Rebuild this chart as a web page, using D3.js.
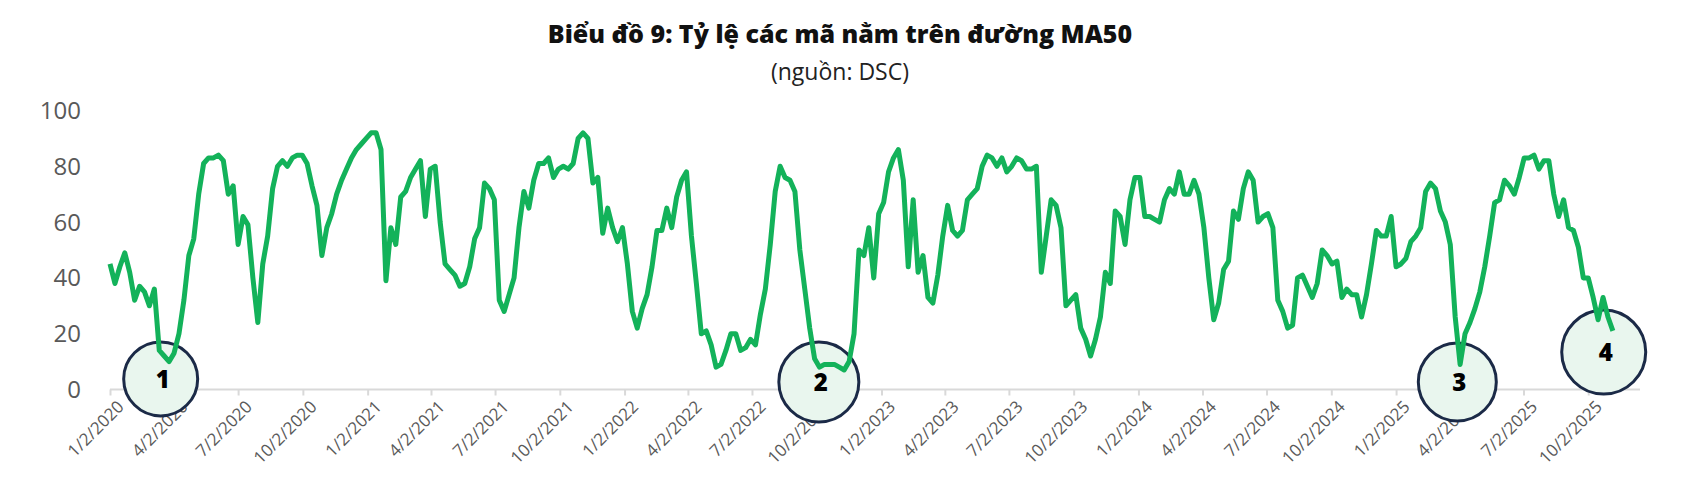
<!DOCTYPE html>
<html><head><meta charset="utf-8">
<script src="https://cdn.jsdelivr.net/npm/d3@7"></script>
<style>body{margin:0;background:#fff}svg{display:block}</style>
</head><body>
<svg id="c" width="1687" height="494"></svg>
<script>
const startDate = "2020-01-02";
const stepDays = 7;
const values = [
45,38,44,49,42,32,37,35,30,36,14,12,10,13,20,32,48,54,70,81,
83,83,84,82,70,73,52,62,59,40,24,45,55,72,80,82,80,83,84,84,
81,73,66,48,58,63,70,75,79,83,86,88,90,92,92,86,39,58,52,69,
71,76,79,82,62,79,80,60,45,43,41,37,38,44,54,58,74,72,68,32,
28,34,40,58,71,65,75,81,81,83,76,79,80,79,81,90,92,90,74,76,
56,65,58,53,58,45,28,22,29,34,44,57,57,65,58,69,75,78,55,38,
20,21,16,8,9,14,20,20,14,15,18,16,27,36,52,71,80,76,75,71,
50,36,22,11,8,9,9,9,8,7,10,20,50,48,58,40,63,67,78,83,
86,75,44,68,42,48,33,31,41,55,66,57,55,57,68,70,72,80,84,83,
80,83,78,80,83,82,79,79,80,42,55,68,66,58,30,32,34,22,18,12,
18,26,42,38,64,62,52,68,76,76,62,62,61,60,68,72,70,78,70,70,
75,70,58,40,25,31,43,46,64,61,72,78,75,60,62,63,58,32,28,22,
23,40,41,37,33,38,50,48,45,46,33,36,34,34,26,34,45,57,55,55,
62,44,45,47,53,55,58,71,74,72,64,60,52,26,9,20,24,29,35,44,
55,67,68,75,73,70,76,83,83,84,79,82,82,70,62,68,58,57,51,40,
40,33,25,33,26,21
];
const tickLabels = ["1/2/2020","4/2/2020","7/2/2020","10/2/2020","1/2/2021","4/2/2021","7/2/2021","10/2/2021",
"1/2/2022","4/2/2022","7/2/2022","10/2/2022","1/2/2023","4/2/2023","7/2/2023","10/2/2023",
"1/2/2024","4/2/2024","7/2/2024","10/2/2024","1/2/2025","4/2/2025","7/2/2025","10/2/2025"];
const yTicks = [0,20,40,60,80,100];
const markLabels = ["1","2","3","4"];
const markDates = ["2020-03-14","2022-10-05","2025-03-30","2025-10-24"];
const markValues = [3.8,2.7,2.7,13.4];
const markRadius = [37,40,39,42];

const svg = d3.select("#c");
const parse = d3.timeParse("%Y-%m-%d");
const parseTick = d3.timeParse("%m/%d/%Y");
const t0 = parse(startDate);
const data = values.map((v,i)=>({d:d3.timeDay.offset(t0,i*stepDays), v}));

const x = d3.scaleTime().domain([t0, parse("2026-01-02")]).range([110,1653]);
const y = d3.scaleLinear().domain([0,100]).range([389.5,110.5]);

svg.append("text").attr("x",840).attr("y",43).attr("text-anchor","middle")
  .attr("font-family","Open Sans").attr("font-weight","800").attr("font-size",25).attr("fill","#111")
  .text("Biểu đồ 9: Tỷ lệ các mã nằm trên đường MA50");
svg.append("text").attr("x",840).attr("y",80).attr("text-anchor","middle")
  .attr("font-family","Open Sans").attr("font-size",23).attr("fill","#222")
  .text("(nguồn: DSC)");

svg.append("g").selectAll("text").data(yTicks).join("text")
  .attr("x",81).attr("y",d=>y(d)).attr("dy","0.35em").attr("text-anchor","end")
  .attr("font-family","Open Sans").attr("font-size",24).attr("fill","#595959").text(d=>d);

const tickDates = tickLabels.map(parseTick);
const xa = svg.append("g").attr("transform",`translate(0,${y(0)})`)
  .call(d3.axisBottom(x).tickValues(tickDates).tickSize(6).tickFormat((d,i)=>tickLabels[i]));
xa.select(".domain").attr("d",`M${x.range()[0]},0H1640`).attr("stroke","#d9d9d9").attr("stroke-width",2);
xa.selectAll(".tick line").attr("stroke","#d9d9d9").attr("stroke-width",2);
xa.selectAll(".tick text").attr("font-family","Open Sans").attr("font-size",17).attr("fill","#595959")
  .attr("text-anchor","end").attr("transform","translate(6,10) rotate(-45)").attr("dy","0.7em").attr("y",0).attr("x",0);

const marks = markLabels.map((l,i)=>({l, d:parse(markDates[i]), v:markValues[i], r:markRadius[i]}));
svg.append("g").selectAll("circle").data(marks).join("circle")
  .attr("cx",d=>x(d.d)).attr("cy",d=>y(d.v)).attr("r",d=>d.r)
  .attr("fill","#e9f6ee").attr("stroke","#1b2a47").attr("stroke-width",3);

svg.append("path").datum(data).attr("fill","none").attr("stroke","#13b25a")
  .attr("stroke-width",5).attr("stroke-linejoin","round")
  .attr("d", d3.line().x(d=>x(d.d)).y(d=>y(d.v)));

svg.append("g").selectAll("text").data(marks).join("text")
  .attr("x",d=>x(d.d)+2).attr("y",d=>y(d.v)).attr("dy","0.36em").attr("text-anchor","middle")
  .attr("font-family","Open Sans").attr("font-weight","800").attr("font-size",24).attr("fill","#000").text(d=>d.l);
</script>
</body></html>
